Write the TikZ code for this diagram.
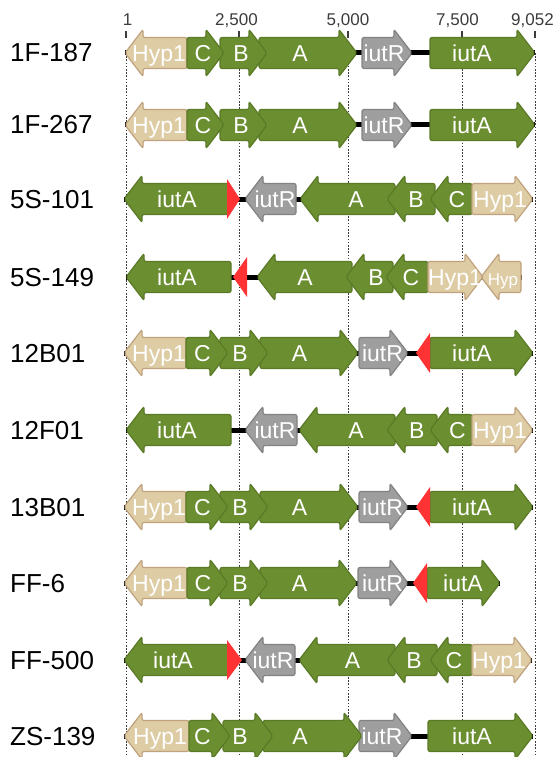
\documentclass[tikz,border=0pt]{standalone}
\usepackage{fontspec}
\setmainfont{Liberation Sans}
\definecolor{gfill}{RGB}{106,142,48}
\definecolor{gdraw}{RGB}{90,122,38}
\definecolor{yfill}{RGB}{158,158,158}
\definecolor{ydraw}{RGB}{130,130,130}
\definecolor{bfill}{RGB}{221,204,164}
\definecolor{bdraw}{RGB}{192,162,126}
\definecolor{redc}{RGB}{255,51,51}
\definecolor{axisc}{RGB}{60,60,60}
\tikzset{
  gg/.style={fill=gfill, draw=gdraw, line width=1.2pt, rounded corners=2pt},
  gy/.style={fill=yfill, draw=ydraw, line width=1.2pt, rounded corners=2pt},
  gb/.style={fill=bfill, draw=bdraw, line width=1.2pt, rounded corners=2pt},
  genetxt/.style={text=white, anchor=base, inner sep=0pt, font=\fontsize{23}{27}\selectfont},
  rowtxt/.style={text=black, anchor=base west, inner sep=0pt, font=\fontsize{26}{30}\selectfont},
  axtxt/.style={text=axisc, anchor=base, inner sep=0pt, font=\fontsize{17}{20}\selectfont},
  backbone/.style={line width=5pt, black},
  gridline/.style={axisc, line width=0.8pt, dash pattern=on 1.6pt off 1.6pt},
  tickline/.style={axisc, line width=1.4pt}
}
% right-pointing gene: name, y, tail x, tip x, style, label, label x
\newcommand{\gR}[7]{%
  \path[#5] (#3,#2-15.5) -- (#4-18,#2-15.5) -- (#4-18,#2-23.5) -- (#4,#2) -- (#4-18,#2+23.5) -- (#4-18,#2+15.5) -- (#3,#2+15.5) -- cycle;
  \node[genetxt] (#1) at (#7,#2+8.2) {#6};}
% left-pointing gene: name, y, tip x, tail x, style, label, label x
\newcommand{\gL}[7]{%
  \path[#5] (#4,#2-15.5) -- (#3+18,#2-15.5) -- (#3+18,#2-23.5) -- (#3,#2) -- (#3+18,#2+23.5) -- (#3+18,#2+15.5) -- (#4,#2+15.5) -- cycle;
  \node[genetxt] (#1) at (#7,#2+8.2) {#6};}
% red triangle: y, base x, tip x
\newcommand{\rtri}[3]{\fill[redc] (#2,#1-20) -- (#3,#1) -- (#2,#1+20) -- cycle;}
% backbone: name, y, x1, x2
\newcommand{\bb}[4]{\coordinate (#1s) at (#3,#2); \coordinate (#1e) at (#4,#2); \draw[backbone] (#1s) -- (#1e);}
\begin{document}
\begin{tikzpicture}[x=1pt,y=-1pt]
\useasboundingbox (0,0) rectangle (559,757);
% axis
\foreach \xx/\lx/\lab/\nm in {126/127.5/1/t1, 239/236.5/{2,500}/t2, 348/348/{5,000}/t3, 462/457.5/{7,500}/t4, 535/532.5/{9,052}/t5}{
  \draw[gridline] (\xx,53) -- (\xx,757);
  \draw[tickline] (\xx,31) -- (\xx,38);
  \node[axtxt] (\nm) at (\lx,26) {\lab};
}
% row labels
\node[rowtxt] (l1) at (10,62) {1F-187};
\node[rowtxt] (l2) at (10,134) {1F-267};
\node[rowtxt] (l3) at (10,208) {5S-101};
\node[rowtxt] (l4) at (10,286) {5S-149};
\node[rowtxt] (l5) at (10,362) {12B01};
\node[rowtxt] (l6) at (10,439) {12F01};
\node[rowtxt] (l7) at (10,516) {13B01};
\node[rowtxt] (l8) at (10,592) {FF-6};
\node[rowtxt] (l9) at (10,669) {FF-500};
\node[rowtxt] (l10) at (10,745) {ZS-139};
% row 1
\bb{b1}{53}{125}{535}
\gL{r1h}{53}{125}{187}{gb}{Hyp1}{159}
\gR{r1ia}{53}{430}{535}{gg}{iutA}{472}
\gR{r1ir}{53}{362}{412}{gy}{iutR}{384}
\gR{r1a}{53}{259}{357}{gg}{A}{300}
\gR{r1b}{53}{220}{267}{gg}{B}{241}
\gR{r1c}{53}{187}{224}{gg}{C}{203}
% row 2
\bb{b2}{125}{125}{535}
\gL{r2h}{125}{125}{187}{gb}{Hyp1}{159}
\gR{r2ia}{125}{430}{535}{gg}{iutA}{472}
\gR{r2ir}{125}{362}{412}{gy}{iutR}{384}
\gR{r2a}{125}{259}{357}{gg}{A}{300}
\gR{r2b}{125}{220}{267}{gg}{B}{241}
\gR{r2c}{125}{187}{224}{gg}{C}{203}
% row 3
\bb{b3}{199}{124}{533}
\gL{r3ia}{199}{124}{230}{gg}{iutA}{177}
\rtri{199}{227}{240}
\gL{r3ir}{199}{245}{296}{gy}{iutR}{275}
\gL{r3a}{199}{300}{395}{gg}{A}{356}
\gL{r3b}{199}{387}{435}{gg}{B}{416}
\gL{r3c}{199}{430}{472}{gg}{C}{457}
\gR{r3h}{199}{472}{533}{gb}{Hyp1}{500}
% row 4
\bb{b4}{277}{126}{522}
\gL{r4ia}{277}{126}{231}{gg}{iutA}{177}
\rtri{277}{247}{233}
\gL{r4a}{277}{257}{352}{gg}{A}{305}
\gL{r4b}{277}{346}{393}{gg}{B}{376}
\gL{r4c}{277}{386}{428}{gg}{C}{411}
\gR{r4h}{277}{428}{483}{gb}{Hyp1}{455}
\gL{r4hs}{277}{481}{521}{gb}{\fontsize{17}{20}\selectfont Hyp}{503}
% row 5
\bb{b5}{353}{124}{533}
\gL{r5h}{353}{124}{186}{gb}{Hyp1}{159}
\gR{r5ia}{353}{430}{533}{gg}{iutA}{472}
\rtri{353}{430}{416}
\gR{r5ir}{353}{359}{408}{gy}{iutR}{382.5}
\gR{r5a}{353}{260}{358}{gg}{A}{299.5}
\gR{r5b}{353}{220}{268}{gg}{B}{240}
\gR{r5c}{353}{186}{228}{gg}{C}{202.5}
% row 6
\bb{b6}{430}{126}{533}
\gL{r6ia}{430}{126}{231}{gg}{iutA}{177}
\gL{r6ir}{430}{245}{297}{gy}{iutR}{275}
\gL{r6a}{430}{299}{395}{gg}{A}{356}
\gL{r6b}{430}{387}{437}{gg}{B}{416.7}
\gL{r6c}{430}{430}{472}{gg}{C}{457.5}
\gR{r6h}{430}{472}{533}{gb}{Hyp1}{500}
% row 7
\bb{b7}{507}{124}{533}
\gL{r7h}{507}{124}{186}{gb}{Hyp1}{159}
\gR{r7ia}{507}{430}{533}{gg}{iutA}{472}
\rtri{507}{430}{416}
\gR{r7ir}{507}{359}{408}{gy}{iutR}{382.5}
\gR{r7a}{507}{260}{358}{gg}{A}{299.5}
\gR{r7b}{507}{220}{268}{gg}{B}{240}
\gR{r7c}{507}{186}{228}{gg}{C}{202.5}
% row 8
\bb{b8}{583}{124}{500}
\gL{r8h}{583}{124}{187}{gb}{Hyp1}{159}
\gR{r8ia}{583}{427}{500}{gg}{iutA}{463}
\rtri{583}{427}{413}
\gR{r8ir}{583}{358}{408}{gy}{iutR}{382.5}
\gR{r8a}{583}{260}{357}{gg}{A}{299.5}
\gR{r8b}{583}{220}{268}{gg}{B}{240}
\gR{r8c}{583}{187}{228}{gg}{C}{203}
% row 9
\bb{b9}{660}{124}{532}
\gL{r9ia}{660}{124}{230}{gg}{iutA}{173}
\rtri{660}{227}{242}
\gL{r9ir}{660}{245}{295}{gy}{iutR}{273}
\gL{r9a}{660}{299}{395}{gg}{A}{352.5}
\gL{r9b}{660}{387}{437}{gg}{B}{414}
\gL{r9c}{660}{430}{472}{gg}{C}{454}
\gR{r9h}{660}{472}{532}{gb}{Hyp1}{499}
% row 10
\bb{b10}{736}{124}{533}
\gL{r10h}{736}{124}{189}{gb}{Hyp1}{160}
\gR{r10ia}{736}{428}{533}{gg}{iutA}{472}
\gR{r10ir}{736}{359}{412}{gy}{iutR}{382}
\gR{r10a}{736}{263}{362}{gg}{A}{300}
\gR{r10b}{736}{223}{273}{gg}{B}{240}
\gR{r10c}{736}{189}{230}{gg}{C}{202.5}
\end{tikzpicture}
\end{document}
